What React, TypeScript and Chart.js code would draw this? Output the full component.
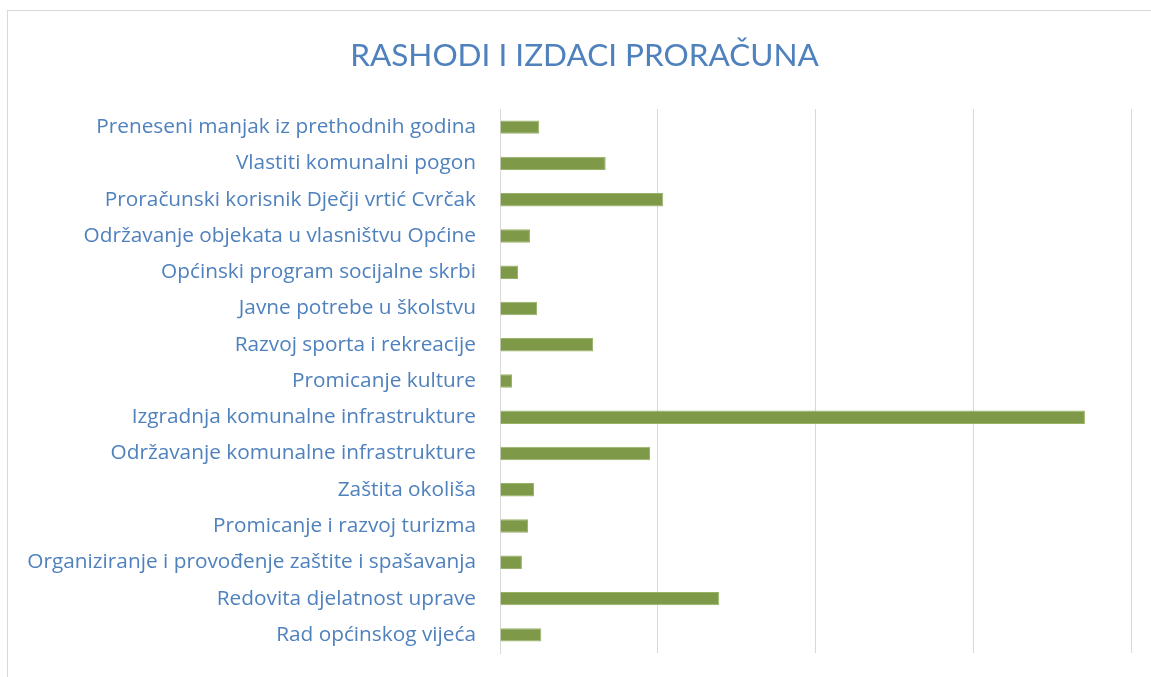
import React, { useEffect, useRef } from "react";
import { Chart, registerables } from "chart.js";

Chart.register(...registerables);

const categories: string[] = [
  "Preneseni manjak iz prethodnih godina",
  "Vlastiti komunalni pogon",
  "Proračunski korisnik Dječji vrtić Cvrčak",
  "Održavanje objekata u vlasništvu Općine",
  "Općinski program socijalne skrbi",
  "Javne potrebe u školstvu",
  "Razvoj sporta i rekreacije",
  "Promicanje kulture",
  "Izgradnja komunalne infrastrukture",
  "Održavanje komunalne infrastrukture",
  "Zaštita okoliša",
  "Promicanje i razvoj turizma",
  "Organiziranje i provođenje zaštite i spašavanja",
  "Redovita djelatnost uprave",
  "Rad općinskog vijeća",
];

const values: number[] = [249, 670, 1035, 190, 114, 235, 590, 76, 3708, 951, 216, 178, 139, 1390, 262];

const axisMax = 4000;
const axisStep = 1000;
const titleText = "RASHODI I IZDACI PRORAČUNA";

const W = 1152;
const H = 680;

const titlePlugin = {
  id: "customTitle",
  afterDraw(chart: any) {
    const ctx = chart.ctx;
    ctx.save();
    ctx.font = "normal 31.5px Lato";
    ctx.fillStyle = "#4F81BD";
    ctx.textAlign = "center";
    ctx.textBaseline = "alphabetic";
    ctx.fillText(titleText, 576.5, 55);
    ctx.restore();
  },
};

export default function App() {
  const ref = useRef<HTMLCanvasElement | null>(null);

  useEffect(() => {
    if (!ref.current) return;
    const chart = new Chart(ref.current, {
      type: "bar",
      data: {
        labels: categories,
        datasets: [
          {
            data: values,
            backgroundColor: "#7E9A49",
            borderColor: "#98B267",
            borderWidth: 1,
            borderSkipped: "left",
            categoryPercentage: 1,
            barPercentage: 0.37,
          },
        ],
      },
      options: {
        indexAxis: "y",
        responsive: false,
        animation: false,
        layout: { padding: { top: 98, right: 29, bottom: 38, left: 0 } },
        plugins: {
          legend: { display: false },
          tooltip: { enabled: false },
          title: { display: false },
        },
        scales: {
          x: {
            min: 0,
            max: axisMax,
            ticks: { stepSize: axisStep, display: false },
            grid: { color: "#D9D9D9", lineWidth: 1, drawTicks: false },
            border: { display: false },
            afterFit: (s: any) => {
              s.height = 0;
            },
          },
          y: {
            grid: { display: false, drawTicks: false },
            border: { display: true, color: "#D9D9D9", width: 1 },
            ticks: {
              color: "#4F81BD",
              font: { family: "Open Sans", size: 20.8 },
              padding: 24,
              autoSkip: false,
            },
            afterFit: (s: any) => {
              s.width = 492;
            },
          },
        },
      },
      plugins: [titlePlugin],
    });
    return () => chart.destroy();
  }, []);

  return (
    <div
      style={{
        position: "fixed",
        left: 7,
        top: 10,
        width: W,
        height: H,
        borderTop: "1px solid #D9D9D9",
        borderLeft: "1px solid #D9D9D9",
        background: "#fff",
      }}
    >
      <canvas ref={ref} width={W} height={H} style={{ display: "block" }} />
    </div>
  );
}
